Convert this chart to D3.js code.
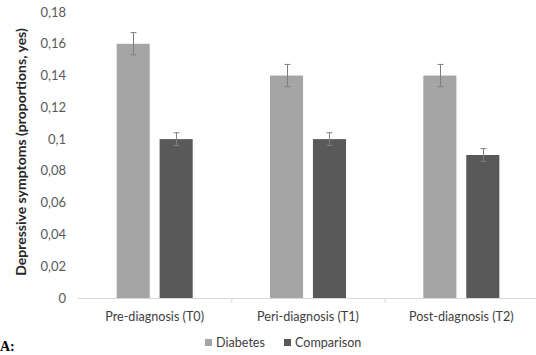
<!DOCTYPE html>
<html>
<head>
<meta charset="utf-8">
<script src="https://cdn.jsdelivr.net/npm/d3@7"></script>
<style>
body { margin: 0; background: #fff; }
svg { display: block; font-family: Lato, "Open Sans", sans-serif; }
</style>
</head>
<body>
<svg id="chart" width="536" height="355"></svg>
<script>
var categories = ["Pre-diagnosis (T0)", "Peri-diagnosis (T1)", "Post-diagnosis (T2)"];
var series = ["Diabetes", "Comparison"];
var diabetes = [0.16, 0.14, 0.14];
var comparison = [0.10, 0.10, 0.09];
var diabetesErr = [0.007, 0.007, 0.007];
var comparisonErr = [0.004, 0.004, 0.004];
var yTicks = [0, 0.02, 0.04, 0.06, 0.08, 0.1, 0.12, 0.14, 0.16, 0.18];
var colors = ["#a5a5a5", "#595959"];

var svg = d3.select("#chart");
var pLeft = 78, pRight = 538, pTop = 12, pBottom = 298;

var x = d3.scaleBand().domain(categories).range([pLeft, pRight]);
var xs = d3.scaleBand().domain(series).range([0, x.bandwidth()]).paddingInner(0.23).paddingOuter(0.9);
var y = d3.scaleLinear().domain([0, 0.18]).range([pBottom, pTop]);

var fmt = function(d){ return String(d).replace(".", ","); };

// y tick labels
svg.append("g").selectAll("text").data(yTicks).enter().append("text")
	.attr("x", 66).attr("y", function(d){ return y(d); })
	.attr("dy", "0.35em")
	.attr("text-anchor", "end")
	.attr("fill", "#595959")
	.style("font-size", "13px")
	.text(fmt);

// axis line with category ticks
svg.append("line")
	.attr("x1", pLeft).attr("x2", pRight).attr("y1", pBottom + 0.5).attr("y2", pBottom + 0.5)
	.attr("stroke", "#d9d9d9");
svg.append("g").selectAll("line").data(categories.slice(1)).enter().append("line")
	.attr("x1", function(d){ return x(d) + 0.5; }).attr("x2", function(d){ return x(d) + 0.5; })
	.attr("y1", pBottom).attr("y2", pBottom + 5)
	.attr("stroke", "#d9d9d9");

var rows = [];
categories.forEach(function(c, i){
	rows.push({cat: c, s: "Diabetes", v: diabetes[i], e: diabetesErr[i], col: colors[0]});
	rows.push({cat: c, s: "Comparison", v: comparison[i], e: comparisonErr[i], col: colors[1]});
});

svg.append("g").selectAll("rect").data(rows).enter().append("rect")
	.attr("x", function(d){ return x(d.cat) + xs(d.s); })
	.attr("width", xs.bandwidth())
	.attr("y", function(d){ return y(d.v); })
	.attr("height", function(d){ return pBottom - y(d.v); })
	.attr("fill", function(d){ return d.col; });

// error bars
var eb = svg.append("g").attr("stroke", "#7f7f7f").attr("stroke-width", 1);
rows.forEach(function(d){
	var cx = Math.round(x(d.cat) + xs(d.s) + xs.bandwidth() / 2) + 0.5;
	eb.append("line").attr("x1", cx).attr("x2", cx).attr("y1", y(d.v + d.e)).attr("y2", y(d.v - d.e));
	eb.append("line").attr("x1", cx - 3).attr("x2", cx + 3).attr("y1", y(d.v + d.e)).attr("y2", y(d.v + d.e));
	eb.append("line").attr("x1", cx - 3).attr("x2", cx + 3).attr("y1", y(d.v - d.e)).attr("y2", y(d.v - d.e));
});

// category labels
svg.append("g").selectAll("text").data(categories).enter().append("text")
	.attr("x", function(d){ return x(d) + x.bandwidth() / 2; })
	.attr("y", 321)
	.attr("text-anchor", "middle")
	.attr("fill", "#404040")
	.style("font-size", "12.6px")
	.text(function(d){ return d; });

// y title
svg.append("text")
	.attr("transform", "translate(21,152)rotate(-90)")
	.attr("text-anchor", "middle")
	.attr("dy", "0.35em")
	.attr("fill", "#262626")
	.style("font-size", "14px")
	.style("font-weight", "bold")
	.text("Depressive symptoms (proportions, yes)");

// legend
var legX = [205, 284];
var leg = svg.append("g");
series.forEach(function(s, i){
	leg.append("rect").attr("x", legX[i]).attr("y", 339).attr("width", 7).attr("height", 7).attr("fill", colors[i]);
	leg.append("text").attr("x", legX[i] + 11).attr("y", 343).attr("dy", "0.35em")
		.attr("fill", "#404040").style("font-size", "12.6px").text(s);
});

// panel letter
svg.append("text")
	.attr("x", 0).attr("y", 351)
	.style("font-family", "'Liberation Serif', serif")
	.style("font-size", "14px")
	.style("font-weight", "bold")
	.text("A:");
</script>
</body>
</html>
